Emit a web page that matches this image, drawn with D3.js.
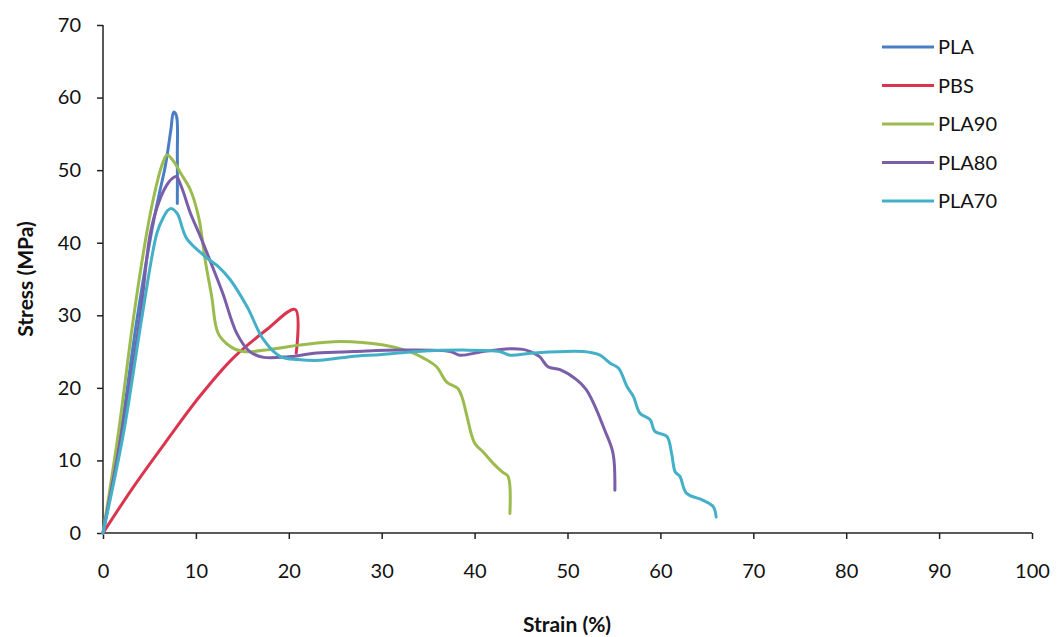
<!DOCTYPE html>
<html>
<head>
<meta charset="utf-8">
<script src="https://cdn.jsdelivr.net/npm/d3@7"></script>
<style>
  body { margin: 0; background: #fff; }
  text { font-family: Lato, "Open Sans", "Liberation Sans", sans-serif; fill: #111; }
</style>
</head>
<body>
<div class="draw-chart"></div>
<script>
// series names (legend order)
const seriesNames = ["PLA", "PBS", "PLA90", "PLA80", "PLA70"];
const seriesColors = ["#4a7ec4", "#db344f", "#9bbb4f", "#7a5ea8", "#43b0c8"];

// strain (%) / stress (MPa) pairs
const plaStrain = [0, 1.9, 3.7, 5.2, 6.1, 6.7, 7.3, 7.6, 7.9, 8.0, 8.0];
const plaStress = [0, 13.7, 29.8, 41.3, 47, 50.5, 55.5, 58, 57.5, 52, 45.4];

const pbsStrain = [0, 3.3, 6.9, 10.4, 14.0, 17.6, 20.7, 20.8];
const pbsStress = [0, 6.4, 12.8, 18.8, 24.1, 28.0, 30.8, 24.8];

const pla90Strain = [0, 1.65, 3.3, 4.7, 5.5, 6.3, 6.9, 7.6, 8.4, 9.4, 10.3, 11.0, 11.7, 12.4, 13.7, 15.1, 18.0, 21.2, 25.5, 30.2, 33.0, 34.5, 35.9, 37.0, 38.2, 38.7, 39.1, 40.0, 40.9, 42.0, 43.0, 43.6, 43.8];
const pla90Stress = [0, 13.7, 29.8, 41.3, 46.5, 50.5, 52.1, 51.2, 49.5, 47.3, 43.5, 37.6, 32.6, 27.5, 25.7, 25.0, 25.3, 25.9, 26.4, 25.9, 25.0, 24.1, 22.9, 20.8, 19.9, 18.5, 16.5, 12.4, 11.2, 9.6, 8.4, 7.8, 2.7];

const pla80Strain = [0, 2.0, 4.0, 5.1, 6.1, 7.0, 7.5, 7.9, 8.5, 9.4, 10.5, 11.5, 12.9, 14.4, 15.8, 17.3, 20.0, 23.0, 27.0, 32.0, 37.4, 38.4, 40.9, 43.8, 45.2, 46.0, 47.0, 47.9, 49.2, 51.0, 52.0, 52.8, 54.0, 54.9, 55.1];
const pla80Stress = [0, 13.7, 29.8, 41.3, 45.9, 48.2, 48.9, 49.1, 47.5, 44.1, 40.8, 37.6, 33.0, 27.5, 25.0, 24.2, 24.3, 24.8, 25.0, 25.2, 25.0, 24.5, 25.0, 25.4, 25.3, 25.0, 24.3, 22.9, 22.5, 21.1, 19.8, 17.9, 14.2, 11.0, 5.9];

const pla70Strain = [0, 2.2, 4.2, 5.8, 6.5, 7.0, 7.4, 8.0, 9.0, 11.0, 12.5, 13.7, 15.5, 17.3, 19.1, 21.0, 23.4, 26.6, 30.0, 33.8, 38.8, 42.7, 43.8, 46.3, 51.7, 53.5, 54.6, 55.5, 56.4, 57.1, 57.8, 58.9, 59.4, 60.7, 61.2, 61.6, 62.1, 62.8, 64.6, 65.7, 66.0];
const pla70Stress = [0, 13.7, 29.8, 41.3, 43.5, 44.5, 44.7, 44.0, 40.6, 38.1, 36.6, 34.9, 31.2, 26.6, 24.3, 23.9, 23.8, 24.3, 24.6, 25.0, 25.2, 25.0, 24.5, 24.8, 25.0, 24.5, 23.4, 22.7, 20.2, 18.8, 16.5, 15.6, 14.0, 13.3, 11.0, 8.4, 7.8, 5.5, 4.5, 3.6, 2.2];

const xTicks = [0, 10, 20, 30, 40, 50, 60, 70, 80, 90, 100];
const yTicks = [0, 10, 20, 30, 40, 50, 60, 70];

const draw = () => {
  const W = 1059, H = 637;
  const margin = { top: 25, right: 27, bottom: 104, left: 103 };
  const width = W - margin.left - margin.right;
  const height = H - margin.top - margin.bottom;

  const svg = d3.select(".draw-chart")
    .append("svg")
    .attr("width", W)
    .attr("height", H);

  const g = svg.append("g")
    .attr("transform", "translate(" + margin.left + "," + margin.top + ")");

  const x = d3.scaleLinear().domain([0, 100]).range([0, width]);
  const y = d3.scaleLinear().domain([0, 70]).range([height, 0]);

  // Y axis
  const yAxis = g.append("g")
    .call(d3.axisLeft(y).tickValues(yTicks).tickSize(6).tickPadding(16));
  // X axis
  const xAxis = g.append("g")
    .attr("transform", "translate(0," + height + ")")
    .call(d3.axisBottom(x).tickValues(xTicks).tickSize(6).tickPadding(25));

  [xAxis, yAxis].forEach(function (a) {
    a.select(".domain").attr("stroke", "#222").attr("stroke-width", 1.5);
    a.selectAll(".tick line").attr("stroke", "#222").attr("stroke-width", 1.5);
    a.selectAll(".tick text")
      .attr("font-size", 20)
      .style("font-family", "Lato, 'Open Sans', sans-serif")
      .attr("fill", "#111");
  });
  yAxis.select(".domain").attr("d", "M0," + height + "V0");
  xAxis.select(".domain").attr("d", "M0,0H" + width);

  // lines
  const allStrain = [plaStrain, pbsStrain, pla90Strain, pla80Strain, pla70Strain];
  const allStress = [plaStress, pbsStress, pla90Stress, pla80Stress, pla70Stress];

  const line = d3.line()
    .x(function (d) { return x(d[0]); })
    .y(function (d) { return y(d[1]); })
    .curve(d3.curveCatmullRom.alpha(0.5));

  // draw in order so PLA70 ends up on top like the picture
  const order = [1, 0, 2, 3, 4];
  order.forEach(function (i) {
    const pts = allStrain[i].map(function (s, k) { return [s, allStress[i][k]]; });
    g.append("path")
      .datum(pts)
      .attr("fill", "none")
      .attr("stroke", seriesColors[i])
      .attr("stroke-width", 3)
      .attr("stroke-linejoin", "round")
      .attr("stroke-linecap", "round")
      .attr("d", line);
  });

  // legend
  const legend = svg.append("g").attr("transform", "translate(882,47)");
  seriesNames.forEach(function (name, i) {
    const row = legend.append("g").attr("transform", "translate(0," + (i * 38.5) + ")");
    row.append("line")
      .attr("x1", 0).attr("x2", 52)
      .attr("stroke", seriesColors[i])
      .attr("stroke-width", 3);
    row.append("text")
      .attr("x", 56)
      .attr("dy", "0.36em")
      .attr("font-size", 20)
      .text(name);
  });

  // axis titles
  svg.append("text")
    .attr("transform", "translate(33," + (margin.top + height / 2) + ") rotate(-90)")
    .attr("text-anchor", "middle")
    .attr("font-size", 21)
    .attr("font-weight", "bold")
    .text("Stress (MPa)");

  svg.append("text")
    .attr("x", 567)
    .attr("y", 632)
    .attr("text-anchor", "middle")
    .attr("font-size", 21)
    .attr("font-weight", "bold")
    .text("Strain (%)");
};

draw();
</script>
</body>
</html>
